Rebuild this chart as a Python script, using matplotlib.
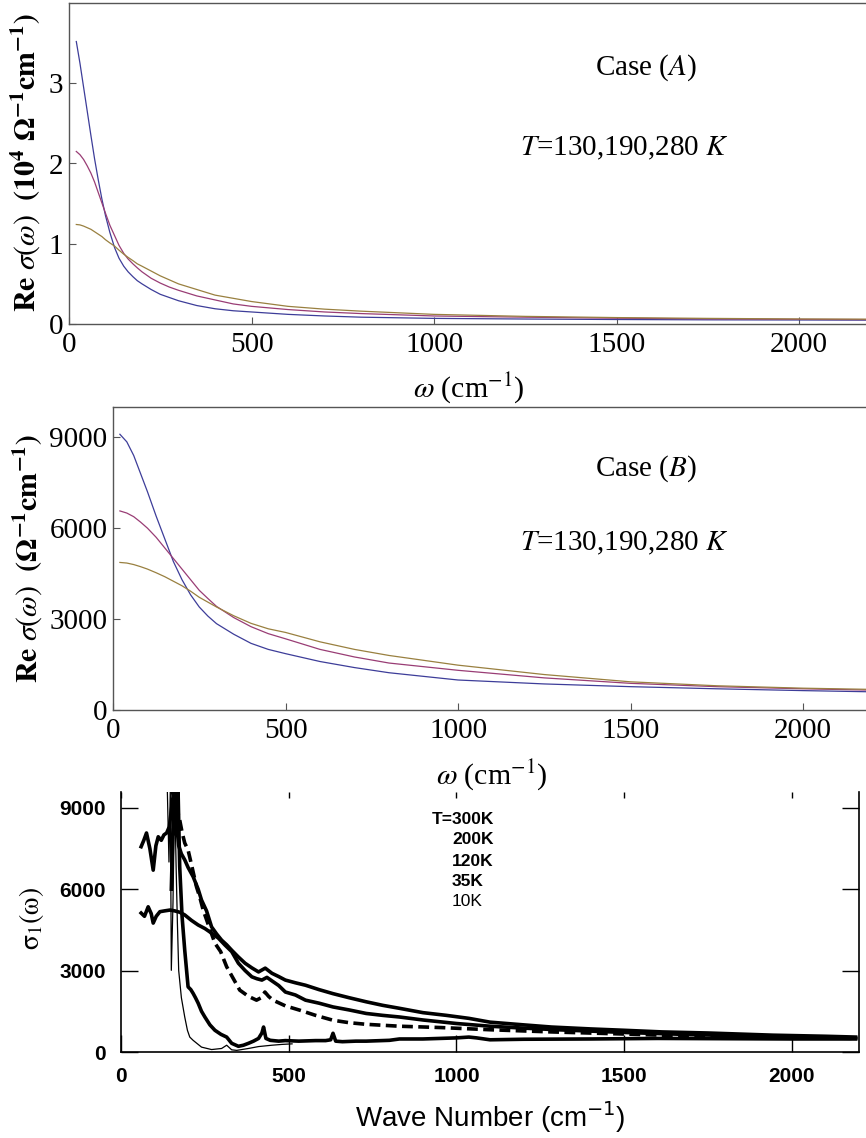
import matplotlib
matplotlib.use("Agg")
import matplotlib.pyplot as plt

W, H = 866, 1138


def fx(x):
    return x / W


def fy(y):
    return 1 - y / H


# ---------------- model curves, panels (A) and (B) ----------------
omega_a = [20, 30, 40, 50, 60, 70, 80, 90, 100, 112, 125, 137, 150, 162, 175,
           187, 200, 225, 250, 275, 300, 350, 400, 450, 500, 600, 700, 800,
           1000, 1250, 1500, 1750, 2000, 2200]

# case A, units of 1e4 Ohm^-1 cm^-1
caseA_130 = [3.52, 3.25, 2.95, 2.65, 2.35, 2.06, 1.80, 1.56, 1.35, 1.14, 0.95,
             0.82, 0.72, 0.65, 0.59, 0.54, 0.50, 0.43, 0.37, 0.33, 0.29, 0.23,
             0.19, 0.165, 0.15, 0.12, 0.10, 0.085, 0.07, 0.062, 0.056, 0.052,
             0.05, 0.048]
caseA_190 = [2.15, 2.11, 2.05, 1.97, 1.88, 1.77, 1.64, 1.51, 1.38, 1.23, 1.10,
             0.98, 0.88, 0.81, 0.75, 0.70, 0.65, 0.57, 0.51, 0.46, 0.42, 0.35,
             0.30, 0.25, 0.22, 0.18, 0.15, 0.13, 0.10, 0.085, 0.072, 0.064,
             0.058, 0.055]
caseA_280 = [1.24, 1.235, 1.22, 1.20, 1.18, 1.15, 1.12, 1.09, 1.05, 1.01, 0.97,
             0.92, 0.87, 0.83, 0.79, 0.75, 0.72, 0.66, 0.60, 0.55, 0.50, 0.43,
             0.36, 0.32, 0.28, 0.22, 0.185, 0.16, 0.12, 0.095, 0.08, 0.07,
             0.063, 0.06]

# case B, Ohm^-1 cm^-1
omega_b = [20, 40, 60, 80, 100, 125, 150, 175, 200, 225, 250, 275, 300, 350,
           400, 450, 500, 600, 700, 800, 1000, 1250, 1500, 1750, 2000, 2200]
caseB_130 = [9100, 8850, 8400, 7800, 7200, 6400, 5650, 4900, 4300, 3800, 3400,
             3100, 2850, 2500, 2200, 2000, 1860, 1600, 1400, 1230, 990, 860,
             770, 700, 640, 600]
caseB_190 = [6570, 6500, 6380, 6200, 6000, 5700, 5350, 5000, 4650, 4300, 3950,
             3680, 3420, 3050, 2750, 2520, 2350, 2000, 1750, 1550, 1310, 1060,
             880, 770, 700, 655]
caseB_280 = [4870, 4850, 4800, 4730, 4650, 4530, 4400, 4250, 4100, 3920, 3720,
             3560, 3400, 3110, 2860, 2680, 2560, 2250, 2000, 1800, 1480, 1170,
             930, 800, 720, 680]

model_colors = ["#3d3d99", "#993d75", "#998040"]

# ---------------- measured data, panel (C) ----------------
w_300 = [60, 68, 76, 86, 96, 104, 111, 120, 128, 136, 144, 151, 158, 165, 172,
         180, 190, 200, 215, 230, 240, 255, 270, 285, 300, 315, 330, 350, 370,
         390, 410, 430, 450, 470, 490, 520, 550, 590, 632, 680, 731, 780, 830,
         900, 970, 1037, 1100, 1200, 1283, 1400, 1500, 1613, 1750, 1943, 2100,
         2190]
s_300 = [7565, 7800, 8070, 7500, 6700, 7600, 7930, 7800, 8000, 8070, 8300, 8990,
         9700, 8500, 7600, 7300, 7080, 6800, 6460, 6000, 5600, 5200, 4610, 4350,
         4120, 3950, 3750, 3500, 3270, 3100, 2950, 3090, 2900, 2780, 2650, 2550,
         2460, 2300, 2150, 2000, 1850, 1720, 1610, 1450, 1350, 1240, 1100, 1000,
         920, 850, 800, 740, 700, 620, 580, 550]

w_200 = [60, 70, 81, 90, 96, 105, 116, 130, 146, 160, 175, 190, 210, 230, 250,
         270, 290, 310, 330, 350, 370, 390, 405, 420, 435, 450, 470, 490, 520,
         550, 590, 632, 680, 731, 780, 830, 900, 1000, 1100, 1200, 1300, 1500,
         1700, 1900, 2100, 2190]
s_200 = [5120, 5000, 5350, 5100, 4750, 5000, 5170, 5200, 5230, 5200, 5150, 5050,
         4850, 4680, 4550, 4380, 4200, 3940, 3700, 3270, 3000, 2770, 2700, 2650,
         2750, 2620, 2450, 2210, 2100, 1910, 1800, 1660, 1550, 1420, 1350, 1290,
         1180, 1050, 950, 880, 820, 720, 640, 580, 530, 510]

w_120 = [150, 160, 168, 175, 182, 190, 200, 212, 225, 235, 245, 260, 280, 297,
         315, 335, 354, 380, 404, 418, 429, 440, 453, 490, 533, 580, 632, 680,
         731, 830, 955, 1100, 1283, 1450, 1613, 1800, 2000, 2190]
s_120 = [9700, 9300, 8900, 8550, 8100, 7700, 7440, 6800, 6090, 5700, 5230, 4700,
         4010, 3700, 3140, 2700, 2280, 2050, 1910, 2000, 2210, 2050, 1910, 1700,
         1540, 1350, 1170, 1080, 1020, 950, 900, 820, 740, 680, 620, 580, 540, 500]

w_35 = [150, 158, 165, 170, 175, 182, 190, 200, 208, 215, 222, 230, 240, 250,
        265, 280, 298, 315, 330, 350, 365, 380, 395, 410, 420, 425, 432, 445,
        470, 490, 530, 580, 610, 625, 632, 640, 660, 700, 731, 800, 830, 900,
        1000, 1037, 1060, 1100, 1200, 1400, 1600, 1800, 2000, 2190]
s_35 = [6000, 9700, 8000, 9700, 6830, 5000, 3750, 2400, 2300, 2160, 2000, 1800,
        1500, 1290, 1000, 800, 650, 550, 320, 210, 250, 320, 400, 500, 700, 920,
        500, 430, 400, 420, 400, 420, 420, 450, 690, 400, 380, 400, 400, 430, 480,
        480, 520, 550, 520, 450, 470, 480, 500, 490, 480, 480]

w_10 = [130, 138, 143, 147, 150, 155, 160, 164, 168, 172, 180, 190, 198, 205,
        215, 240, 270, 300, 315, 330, 345, 380, 410, 450, 480, 510]
s_10 = [9700, 9700, 7000, 9700, 3010, 5500, 9700, 7000, 4800, 3000, 2000, 1290,
        800, 550, 430, 180, 90, 130, 250, 80, 60, 130, 200, 250, 280, 300]

legend_labels = ["T=300K", "200K", "120K", "35K", "10K"]

# ---------------- figure ----------------
plt.rcParams["mathtext.fontset"] = "stix"
plt.rcParams["font.family"] = ["Liberation Serif", "DejaVu Serif"]

fig = plt.figure(figsize=(W / 100, H / 100), dpi=100)

frame_col = "#555555"


def model_axes(rect, ylim, yticks, ylabel_txt, ylabel_x, ylabel_y,
               xlabel_x, xlabel_y):
    ax = fig.add_axes(rect)
    ax.set_xlim(0, 2200)
    ax.set_ylim(*ylim)
    ax.set_xticks([0, 500, 1000, 1500, 2000])
    ax.set_yticks(yticks)
    for s in ax.spines.values():
        s.set_color(frame_col)
        s.set_linewidth(1.0)
    ax.tick_params(direction="in", length=5, width=0.8, color=frame_col,
                   labelsize=21, pad=6)
    ax.tick_params(axis="y", pad=4)
    fig.text(ylabel_x, ylabel_y, ylabel_txt, rotation=90, ha="center",
             va="center", fontsize=21.5)
    fig.text(xlabel_x, xlabel_y, r"$\omega$ (cm$^{-1}$)", ha="center",
             va="center", fontsize=21.5)
    return ax


# panel A
axA = model_axes([fx(69), fy(324), (872 - 69) / W, (324 - 3) / H], (0, 4.0),
                 [0, 1, 2, 3],
                 r"$\mathbf{Re}\ \sigma(\omega)\ \ \mathbf{(10^4\ \Omega^{-1}cm^{-1})}$",
                 fx(25), fy(163), fx(469), fy(388))
for vals, c in zip([caseA_130, caseA_190, caseA_280], model_colors):
    axA.plot(omega_a, vals, color=c, lw=0.9)
axA.text(1580, 3.2, r"Case ($\mathit{A}$)", fontsize=21, ha="center", va="center")
axA.text(1520, 2.19, r"$\mathit{T}$=130,190,280 $\mathit{K}$", fontsize=21,
         ha="center", va="center")

# panel B
axB = model_axes([fx(113), fy(710), (872 - 113) / W, (710 - 407) / H],
                 (0, 10000), [0, 3000, 6000, 9000],
                 r"$\mathbf{Re}\ \sigma(\omega)\ \ \mathbf{(\Omega^{-1}cm^{-1})}$",
                 fx(27), fy(558), fx(492), fy(775))
for vals, c in zip([caseB_130, caseB_190, caseB_280], model_colors):
    axB.plot(omega_b, vals, color=c, lw=0.9)
axB.text(1546, 7950, r"Case ($\mathit{B}$)", fontsize=21, ha="center", va="center")
axB.text(1482, 5490, r"$\mathit{T}$=130,190,280 $\mathit{K}$", fontsize=21,
         ha="center", va="center")

# panel C
axC = fig.add_axes([fx(121), fy(1052), (859 - 121) / W, (1052 - 792) / H])
axC.set_xlim(0, 2200)
axC.set_ylim(0, 9580)
axC.plot(w_300, s_300, color="black", lw=2.6, solid_joinstyle="round")
axC.plot(w_200, s_200, color="black", lw=2.6, solid_joinstyle="round")
axC.plot(w_120, s_120, color="black", lw=2.6, ls=(0, (3.0, 1.5)))
axC.plot(w_35, s_35, color="black", lw=2.6, solid_joinstyle="round")
axC.plot(w_10, s_10, color="black", lw=0.9)

axC.spines["top"].set_visible(False)
for side in ["left", "right", "bottom"]:
    axC.spines[side].set_linewidth(1.2)
axC.set_xticks([0, 500, 1000, 1500, 2000])
axC.set_yticks([0, 3000, 6000, 9000])
axC.tick_params(direction="in", length=12, width=1.0, labelsize=15, pad=11,
                right=True, top=True)
for t in axC.xaxis.get_major_ticks():
    t.tick2line.set_markersize(4)
for lab in axC.get_xticklabels() + axC.get_yticklabels():
    lab.set_family("Liberation Sans")
    lab.set_fontweight("bold")

fig.text(fx(490), fy(1117), r"Wave Number (cm$^{\mathrm{-1}}$)", ha="center",
         va="center", fontsize=20, family="Liberation Sans",
         math_fontfamily="dejavusans")
fig.text(fx(32), fy(918), r"$\mathrm{\sigma_1(\omega)}$", rotation=90,
         ha="center", va="center", fontsize=20, math_fontfamily="stix")

leg_x = [432, 452, 452, 452, 452]
leg_y = [820, 840, 861, 881, 901]
for lab, x, y in zip(legend_labels, leg_x, leg_y):
    fig.text(fx(x), fy(y), lab, ha="left", va="center", fontsize=12.5,
             family="Liberation Sans",
             fontweight="normal" if lab == "10K" else "bold")

fig.savefig("out.png", dpi=100)
